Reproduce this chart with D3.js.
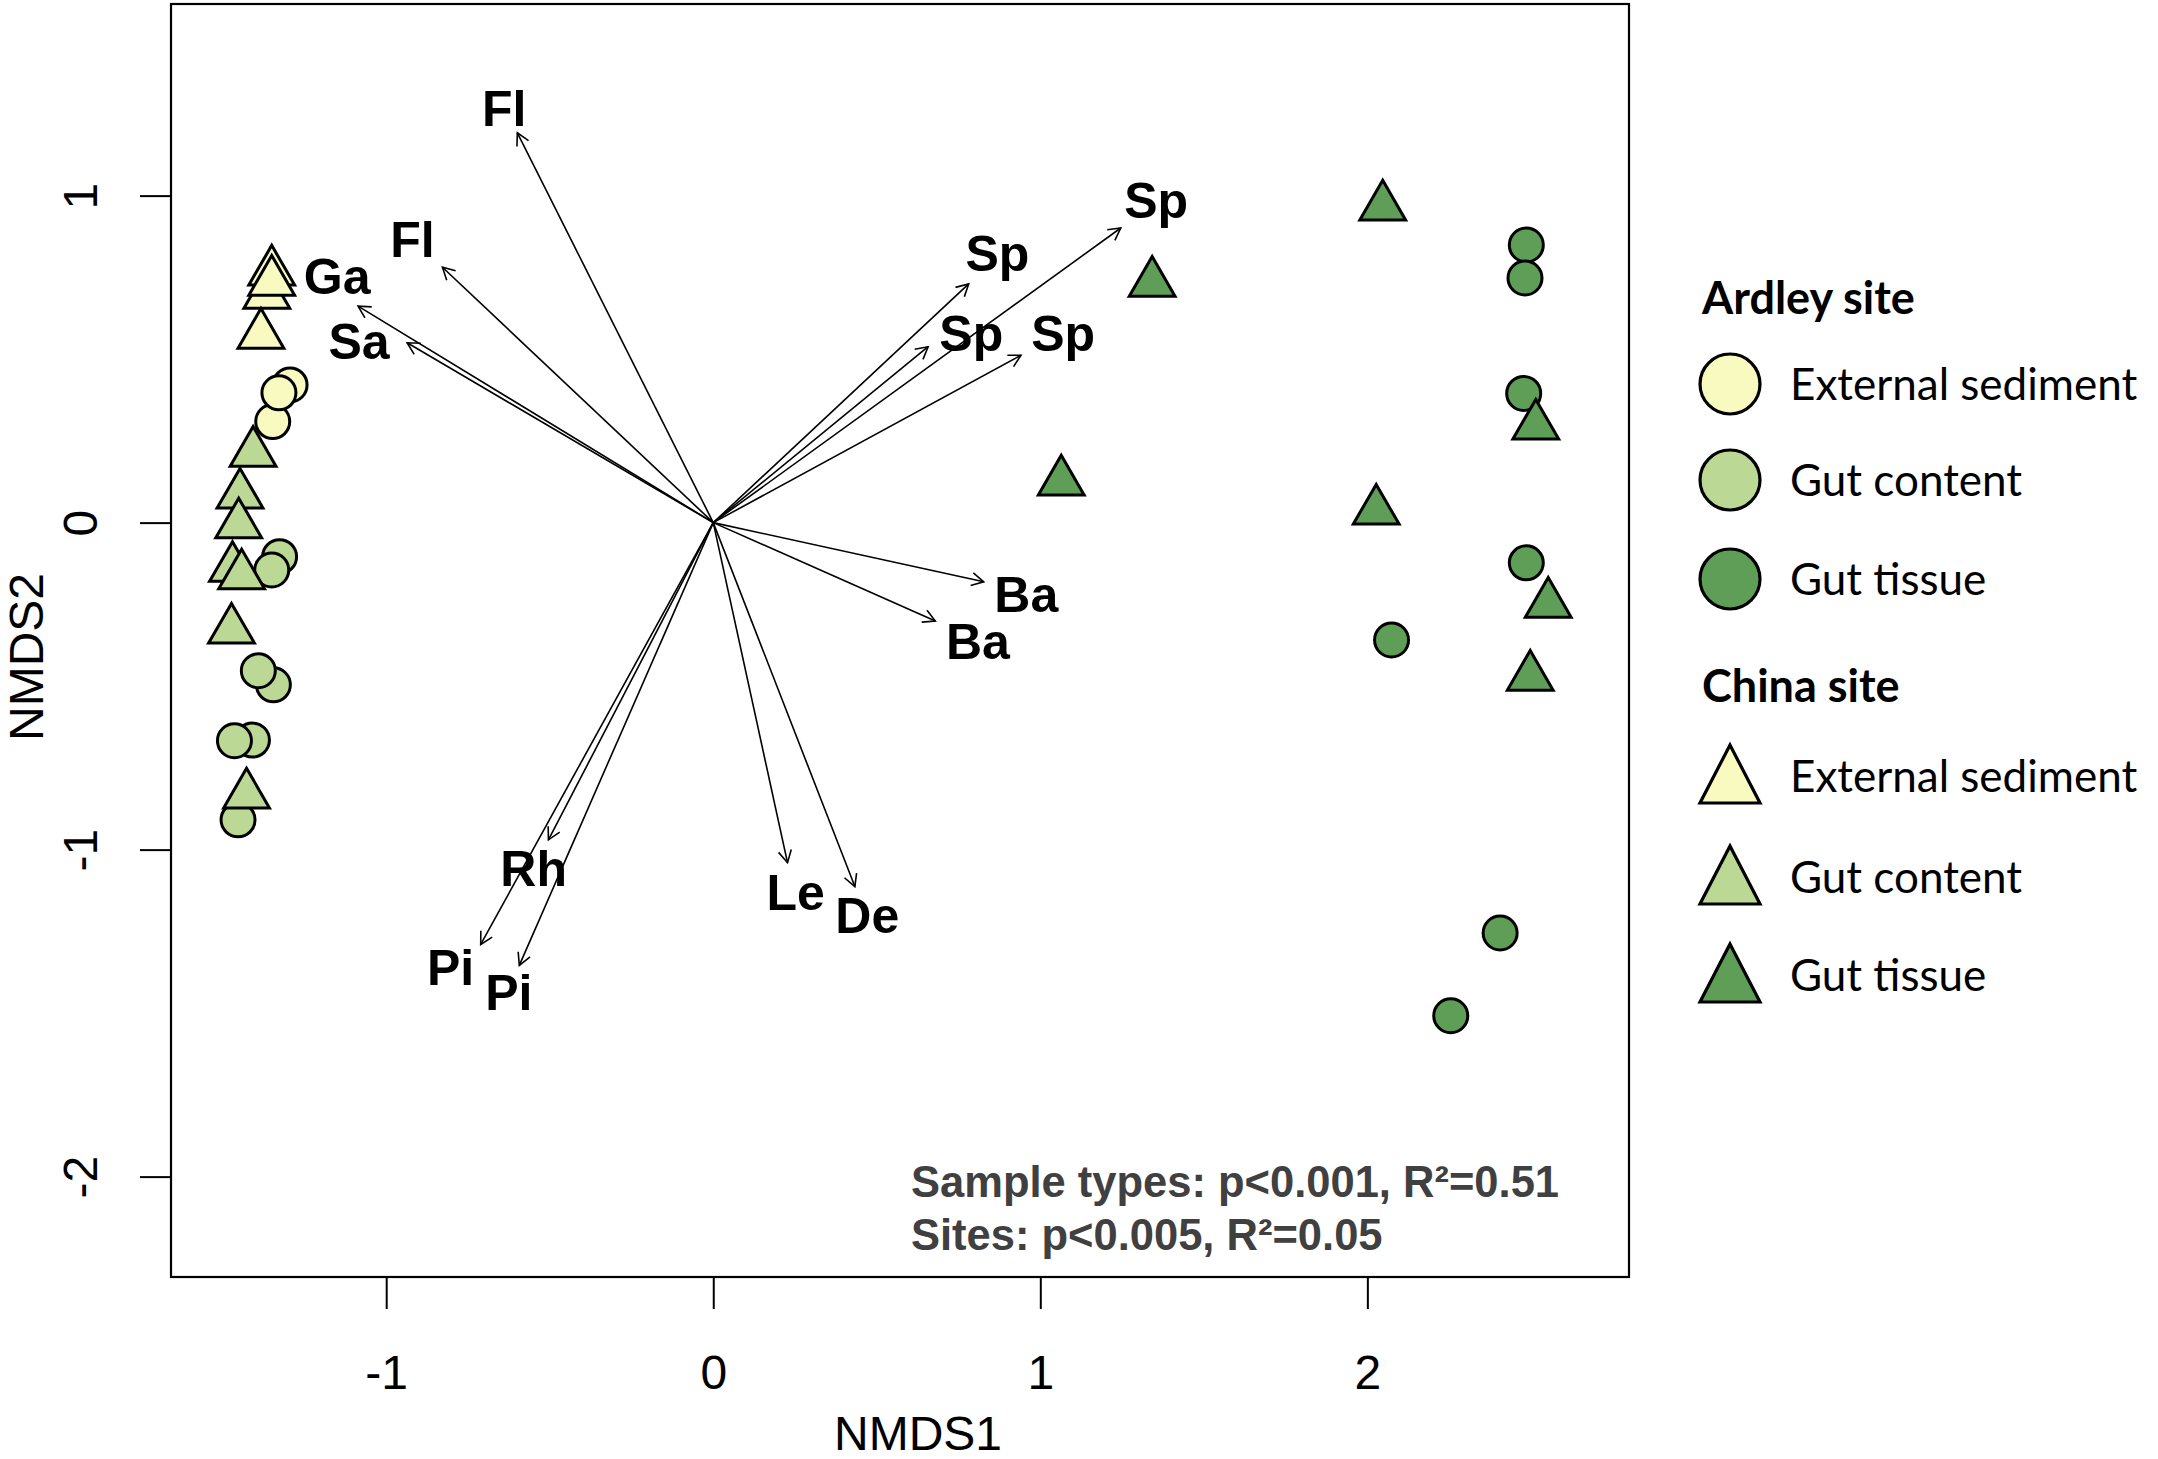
<!DOCTYPE html>
<html><head><meta charset="utf-8">
<script src="https://cdn.jsdelivr.net/npm/d3@7"></script>
<style>
html,body{margin:0;padding:0;background:#fff}
svg{display:block}
</style>
</head><body>
<svg id="chart" width="2158" height="1459"></svg>
<script>
// ---------------- data ----------------
const xTicks = [-1, 0, 1, 2];
const yTicks = [-2, -1, 0, 1];
const xTickLabels = ["-1", "0", "1", "2"];
const yTickLabels = ["-2", "-1", "0", "1"];
const xTitle = "NMDS1";
const yTitle = "NMDS2";

const sampleTypes = ["External sediment", "Gut content", "Gut tissue"];
const sites = ["Ardley site", "China site"];
const typeColors = ["#f8fac0", "#bbd995", "#5e9e57"];

// Ardley site (circles)
const ardleySedX = [-1.294, -1.347, -1.328];
const ardleySedY = [0.421, 0.309, 0.397];
const ardleyGutX = [-1.326, -1.350, -1.345, -1.391, -1.409, -1.464, -1.453];
const ardleyGutY = [-0.104, -0.145, -0.496, -0.453, -0.665, -0.667, -0.909];
const ardleyTisX = [2.486, 2.482, 2.478, 2.486, 2.074, 2.406, 2.255];
const ardleyTisY = [0.849, 0.748, 0.395, -0.123, -0.359, -1.255, -1.508];

// China site (triangles)
const chinaSedX = [-1.350, -1.365, -1.350, -1.383];
const chinaSedY = [0.767, 0.696, 0.736, 0.574];
const chinaGutX = [-1.407, -1.447, -1.451, -1.470, -1.442, -1.473, -1.427];
const chinaGutY = [0.213, 0.085, -0.006, -0.139, -0.162, -0.328, -0.832];
const chinaTisX = [2.047, 1.342, 1.064, 2.027, 2.515, 2.553, 2.498];
const chinaTisY = [0.966, 0.733, 0.125, 0.036, 0.296, -0.249, -0.472];

// fitted vectors (arrow tips) and their labels
const vecNames = ["Fl", "Fl", "Ga", "Sa", "Sp", "Sp", "Sp", "Sp", "Ba", "Ba", "Le", "De", "Rh", "Pi", "Pi"];
const vecX = [-0.599, -0.828, -1.086, -0.936, 1.246, 0.781, 0.657, 0.941, 0.827, 0.679, 0.227, 0.433, -0.504, -0.711, -0.593];
const vecY = [1.192, 0.781, 0.662, 0.550, 0.901, 0.730, 0.538, 0.512, -0.181, -0.301, -1.040, -1.113, -0.970, -1.290, -1.354];
const labX = [-0.639, -0.920, -1.150, -1.083, 1.354, 0.869, 0.789, 1.070, 0.957, 0.809, 0.252, 0.471, -0.549, -0.803, -0.625];
const labY = [1.269, 0.866, 0.753, 0.555, 0.988, 0.824, 0.579, 0.579, -0.219, -0.362, -1.129, -1.200, -1.057, -1.359, -1.436];

const statLines = [["Sample types: p<0.001, R", "²", "=0.51"], ["Sites: p<0.005, R", "²", "=0.05"]];

// ---------------- layout ----------------
const svg = d3.select("#chart");
const P = {left: 171, right: 1629, top: 4, bottom: 1277};
const x = d3.scaleLinear().domain([-1.658, 2.800]).range([P.left, P.right]);
const y = d3.scaleLinear().domain([-2.307, 1.586]).range([P.bottom, P.top]);
const AX_FONT = "'Liberation Sans', Arial, Helvetica, sans-serif";
const LEG_FONT = "Lato, 'Open Sans', sans-serif";

svg.append("rect").attr("width", 2158).attr("height", 1459).attr("fill", "#fff");

// axes
const gx = svg.append("g").attr("transform", `translate(0,${P.bottom})`)
  .call(d3.axisBottom(x).tickValues(xTicks).tickSize(32).tickFormat((d, i) => xTickLabels[i]));
gx.select(".domain").remove();
gx.selectAll(".tick line").attr("stroke", "#000").attr("stroke-width", 2);
gx.selectAll(".tick text").attr("y", 112).attr("dy", 0)
  .attr("font-family", AX_FONT).attr("font-size", 48).attr("fill", "#000");

const gy = svg.append("g").attr("transform", `translate(${P.left},0)`)
  .call(d3.axisLeft(y).tickValues(yTicks).tickSize(31).tickFormat((d, i) => yTickLabels[i]));
gy.select(".domain").remove();
gy.selectAll(".tick line").attr("stroke", "#000").attr("stroke-width", 2);
gy.selectAll(".tick text").attr("x", 0).attr("y", 0).attr("dy", 0)
  .attr("text-anchor", "middle")
  .attr("transform", "translate(-74,0) rotate(-90)")
  .attr("font-family", AX_FONT).attr("font-size", 48).attr("fill", "#000");

// frame
svg.append("rect").attr("x", P.left).attr("y", P.top)
  .attr("width", P.right - P.left).attr("height", P.bottom - P.top)
  .attr("fill", "none").attr("stroke", "#000").attr("stroke-width", 2.2);

// axis titles
svg.append("text").attr("x", 918).attr("y", 1450).attr("text-anchor", "middle")
  .attr("font-family", AX_FONT).attr("font-size", 48).text(xTitle);
svg.append("text").attr("transform", "translate(43,657) rotate(-90)").attr("text-anchor", "middle")
  .attr("font-family", AX_FONT).attr("font-size", 48).text(yTitle);

// ---------------- points ----------------
const R = 17; // circle radius
function triPath(r) {
  const a = 1.5551203 * r, b = 0.7775602 * r, c = 1.3467737 * r;
  return `M0,${-a}L${c},${b}L${-c},${b}Z`;
}
const plotG = svg.append("g");
const circleSets = [[ardleySedX, ardleySedY, 0], [ardleyGutX, ardleyGutY, 1], [ardleyTisX, ardleyTisY, 2]];
const triSets = [[chinaSedX, chinaSedY, 0], [chinaGutX, chinaGutY, 1], [chinaTisX, chinaTisY, 2]];

circleSets.forEach(([xs, ys, t]) => {
  plotG.append("g").selectAll("circle").data(xs.map((v, i) => [v, ys[i]])).join("circle")
    .attr("cx", d => x(d[0])).attr("cy", d => y(d[1])).attr("r", R)
    .attr("fill", typeColors[t]).attr("stroke", "#000").attr("stroke-width", 3);
});
triSets.forEach(([xs, ys, t]) => {
  plotG.append("g").selectAll("path").data(xs.map((v, i) => [v, ys[i]])).join("path")
    .attr("transform", d => `translate(${x(d[0])},${y(d[1])})`)
    .attr("d", triPath(R))
    .attr("fill", typeColors[t]).attr("stroke", "#000").attr("stroke-width", 3)
    .attr("stroke-linejoin", "miter");
});

// ---------------- arrows ----------------
svg.append("defs").append("marker").attr("id", "ah")
  .attr("markerUnits", "userSpaceOnUse").attr("markerWidth", 30).attr("markerHeight", 30)
  .attr("viewBox", "-15 -15 30 30").attr("refX", 0).attr("refY", 0).attr("orient", "auto")
  .append("path").attr("d", "M-12,-6.5L0,0L-12,6.5").attr("fill", "none")
  .attr("stroke", "#000").attr("stroke-width", 1.6);

const vecs = vecNames.map((n, i) => ({n, x: vecX[i], y: vecY[i], lx: labX[i], ly: labY[i]}));
svg.append("g").selectAll("line").data(vecs).join("line")
  .attr("x1", x(0)).attr("y1", y(0))
  .attr("x2", d => x(d.x)).attr("y2", d => y(d.y))
  .attr("stroke", "#000").attr("stroke-width", 1.6).attr("marker-end", "url(#ah)");

svg.append("g").selectAll("text").data(vecs).join("text")
  .attr("x", d => x(d.lx)).attr("y", d => y(d.ly)).attr("dy", "0.36em")
  .attr("text-anchor", "middle").attr("font-family", AX_FONT)
  .attr("font-weight", "bold").attr("font-size", 50).attr("fill", "#000")
  .text(d => d.n);

// ---------------- stats ----------------
const st = svg.append("g").attr("font-family", AX_FONT).attr("font-weight", "bold")
  .attr("font-size", 43.5).attr("fill", "#404040");
statLines.forEach((parts, i) => {
  const t = st.append("text").attr("x", 911).attr("y", 1197 + i * 53);
  parts.forEach(p => t.append("tspan").text(p));
});

// ---------------- legend ----------------
const leg = svg.append("g");
const LX = 1730, TX = 1790, TITLE_X = 1702;
const titleY = [298, 686];
const circRowY = [384, 480, 579];
const triRowY = [776, 877, 975];
const ITEM_FONT = 44, TITLE_FONT = 45;

sites.forEach((s, i) => {
  leg.append("text").attr("x", TITLE_X).attr("y", titleY[i]).attr("dy", "0.36em")
    .attr("font-family", LEG_FONT).attr("font-weight", "bold").attr("font-size", TITLE_FONT).text(s);
});
sampleTypes.forEach((s, i) => {
  leg.append("circle").attr("cx", LX).attr("cy", circRowY[i]).attr("r", 30)
    .attr("fill", typeColors[i]).attr("stroke", "#000").attr("stroke-width", 3.2);
  leg.append("text").attr("x", TX).attr("y", circRowY[i]).attr("dy", "0.36em")
    .attr("font-family", LEG_FONT).attr("font-size", ITEM_FONT).text(s);
  leg.append("path").attr("transform", `translate(${LX},${triRowY[i]})`)
    .attr("d", "M0,-31L30,27L-30,27Z")
    .attr("fill", typeColors[i]).attr("stroke", "#000").attr("stroke-width", 3.2);
  leg.append("text").attr("x", TX).attr("y", triRowY[i]).attr("dy", "0.36em")
    .attr("font-family", LEG_FONT).attr("font-size", ITEM_FONT).text(s);
});
</script>
</body></html>
